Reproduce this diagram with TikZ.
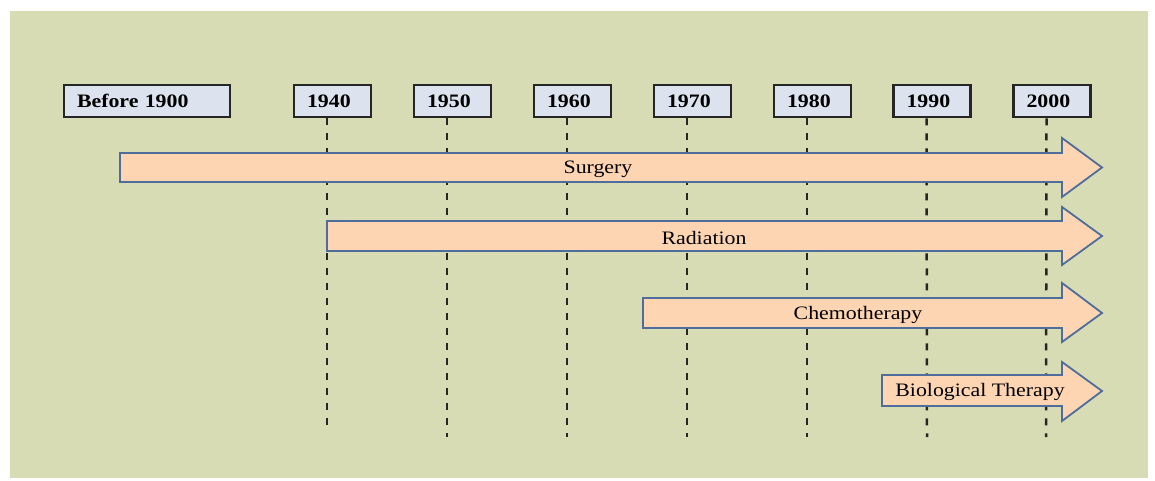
\documentclass[tikz,border=0pt]{standalone}
\usepackage{fontspec}
\setmainfont{Liberation Serif}
\newfontfamily\lblfont[FakeStretch=1.15]{Liberation Serif}
\definecolor{bgolive}{HTML}{D8DCB5}
\definecolor{boxfill}{HTML}{DCE3EE}
\definecolor{arrfill}{HTML}{FDD5B3}
\definecolor{arrline}{HTML}{4F6D9A}
\tikzset{
  yearbox/.style={draw=black!85, line width=2.6pt, fill=boxfill, minimum height=32pt,
    inner xsep=13pt, inner ysep=0pt, align=left, font=\lblfont\fontsize{19}{19}\selectfont\bfseries},
  vline/.style={draw=black!85, line width=2.5pt, dash pattern=on 7pt off 8pt},
  bigarrow/.style={draw=arrline, line width=1.8pt, fill=arrfill, line join=miter},
  arrlabel/.style={font=\lblfont\fontsize{19}{19}\selectfont, text=black}
}
\begin{document}
\begin{tikzpicture}[x=1pt,y=-1pt]
\useasboundingbox (0,0) rectangle (1155,481);
\fill[white] (0,0) rectangle (1155,481);
\fill[bgolive] (10,11) rectangle (1148,478);

% year boxes
\node[yearbox, text width=140pt] (b1900) at (147,101) {Before 1900};
\foreach \yr/\cx in {1940/332.5,1950/452.5,1960/572.5,1970/692.5,1980/812.5,1990/932,2000/1052}{
  \node[yearbox, text width=51pt] (b\yr) at (\cx,101) {\yr};
}

% end points of the dashed guides
\coordinate (e1940) at (327,432);
\coordinate (e1950) at (447,437);
\coordinate (e1960) at (567,437);
\coordinate (e1970) at (687,437);
\coordinate (e1980) at (807,437);
\coordinate (e1990) at (927,437);
\coordinate (e2000) at (1046,437);
\foreach \yr in {1940,1950,1960,1970,1980,1990,2000}{
  \draw[vline] ([xshift=-5.5pt]b\yr.south) -- (e\yr);
}

% treatment arrows
\draw[bigarrow] (120,153) -- (1062,153) -- (1062,138) -- (1102,167.5) -- (1062,197) -- (1062,182) -- (120,182) -- cycle;
\node[arrlabel] (surgery) at (598,169) {Surgery};

\draw[bigarrow] (327,221) -- (1062,221) -- (1062,207) -- (1102,236) -- (1062,265) -- (1062,251) -- (327,251) -- cycle;
\node[arrlabel] (radiation) at (704,238) {Radiation};

\draw[bigarrow] (643,298) -- (1062,298) -- (1062,283) -- (1102,313) -- (1062,342) -- (1062,328) -- (643,328) -- cycle;
\node[arrlabel] (chemo) at (858,315) {Chemotherapy};

\draw[bigarrow] (882,375) -- (1062,375) -- (1062,362) -- (1102,391) -- (1062,421) -- (1062,406) -- (882,406) -- cycle;
\node[arrlabel] (bio) at (980,392) {Biological Therapy};
\end{tikzpicture}
\end{document}
